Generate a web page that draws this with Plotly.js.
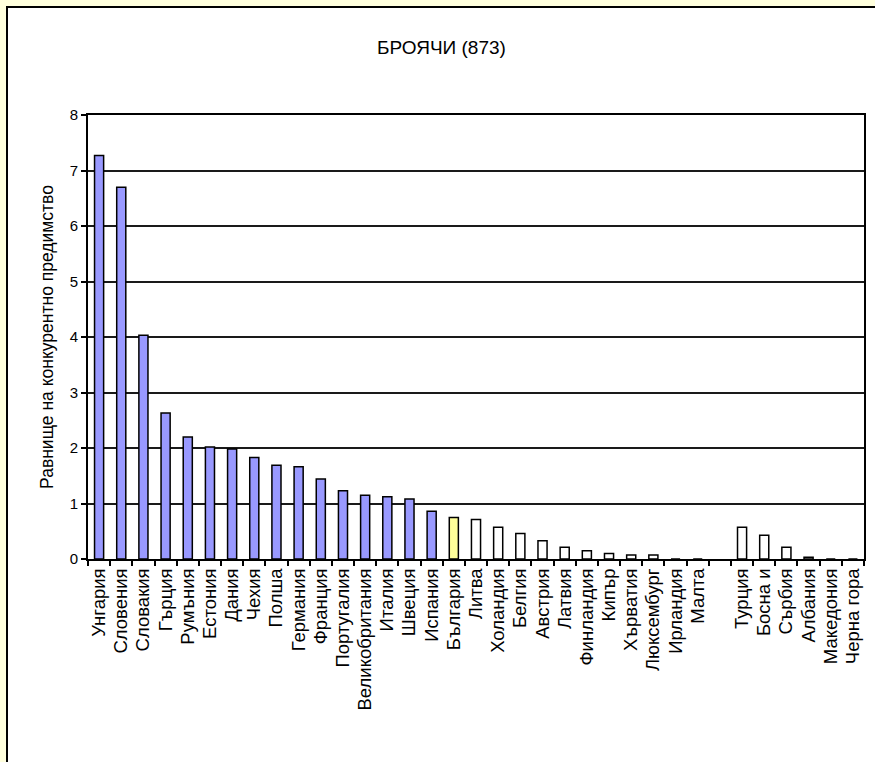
<!DOCTYPE html>
<html>
<head>
<meta charset="utf-8">
<script src="https://cdn.plot.ly/plotly-3.0.1.min.js"></script>
<style>
  html, body { margin: 0; padding: 0; width: 875px; height: 762px; overflow: hidden; background: #FFFFDD; }
  #frame { position: absolute; left: 6px; top: 6px; width: 869px; height: 756px; background: #ffffff;
           border-left: 2px solid #000; border-top: 2px solid #000; box-sizing: border-box; }
  #chart { width: 867px; height: 754px; }
</style>
</head>
<body>
<div id="frame"><div id="chart"></div></div>
<script>
const categories = ["Унгария","Словения","Словакия","Гърция","Румъния","Естония","Дания","Чехия","Полша","Германия","Франция","Португалия","Великобритания","Италия","Швеция","Испания","България","Литва","Холандия","Белгия","Австрия","Латвия","Финландия","Кипър","Хърватия","Люксембург","Ирландия","Малта"," ","Турция","Босна и","Сърбия","Албания","Македония","Черна гора"];
const values = [7.27,6.70,4.03,2.63,2.20,2.02,1.98,1.83,1.69,1.66,1.44,1.23,1.15,1.12,1.08,0.86,0.75,0.71,0.57,0.46,0.33,0.21,0.15,0.10,0.07,0.07,0,0,null,0.57,0.43,0.21,0.03,0,0];
const groups = ["eu","eu","eu","eu","eu","eu","eu","eu","eu","eu","eu","eu","eu","eu","eu","eu","bg","low","low","low","low","low","low","low","low","low","low","low","gap","low","low","low","low","low","low"];
const groupColors = { eu: "#9999FF", bg: "#FFFF99", low: "#FFFFFF", gap: "#FFFFFF" };
const titleText = "БРОЯЧИ (873)";
const yTitle = "Равнище на конкурентно предимство";

const trace = {
  type: "bar",
  x: categories,
  y: values,
  marker: { color: groups.map(g => groupColors[g]), line: { color: "#000000", width: 1.5 } },
  hoverinfo: "x+y"
};

const layout = {
  width: 867, height: 754,
  paper_bgcolor: "#ffffff", plot_bgcolor: "#ffffff",
  margin: { l: 80, r: 11, t: 107, b: 203 },
  bargap: 0.59,
  showlegend: false,
  font: { family: "Liberation Sans, Arial, sans-serif", color: "#000000" },
  title: { text: titleText, font: { size: 19, family: "Liberation Sans, Arial, sans-serif" },
           x: 0.5, xref: "container", y: 0.948, yref: "container", yanchor: "middle" },
  xaxis: {
    type: "category",
    tickangle: -90,
    tickfont: { size: 18.5 },
    showline: true, linecolor: "#000000", linewidth: 2, mirror: true,
    ticks: "outside", ticklen: 5, tickcolor: "#000000", tickwidth: 2,
    tickson: "boundaries",
    showgrid: false, zeroline: false, automargin: false
  },
  yaxis: {
    range: [0, 8], dtick: 1, tick0: 0,
    tickfont: { size: 15 },
    showline: true, linecolor: "#000000", linewidth: 2, mirror: true,
    ticks: "outside", ticklen: 5, tickcolor: "#000000", tickwidth: 2,
    showgrid: true, gridcolor: "#1a1a1a", gridwidth: 2,
    zeroline: false, automargin: false,
    title: { text: yTitle, font: { size: 17.5 }, standoff: 12 }
  }
};

Plotly.newPlot("chart", [trace], layout, { displayModeBar: false, staticPlot: true });
</script>
</body>
</html>
